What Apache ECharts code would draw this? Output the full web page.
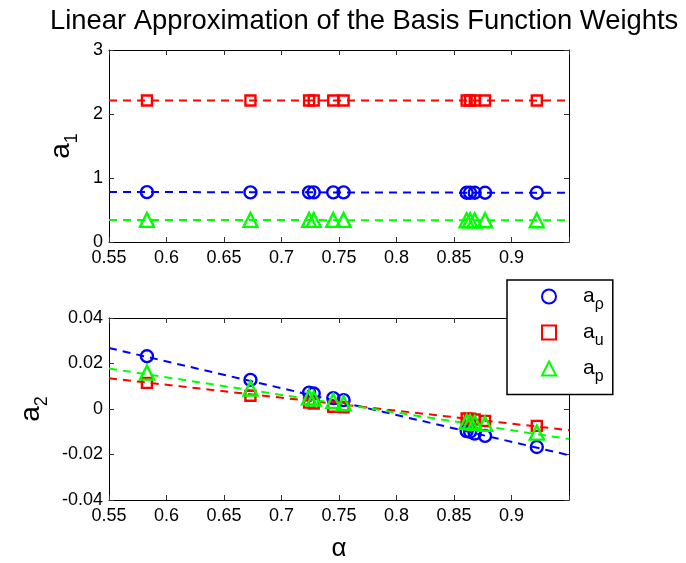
<!DOCTYPE html>
<html>
<head>
<meta charset="utf-8">
<script src="https://cdn.jsdelivr.net/npm/echarts@6/dist/echarts.min.js"></script>
<style>html,body{margin:0;padding:0;background:#fff;}#c{width:686px;height:563px;}</style>
</head>
<body>
<div id="c"></div>
<script>
// ---- data ----
var alpha   = [0.583, 0.673, 0.724, 0.728, 0.745, 0.754, 0.861, 0.864, 0.868, 0.877, 0.922];
var a1Rho   = [0.78, 0.775, 0.775, 0.775, 0.775, 0.775, 0.77, 0.77, 0.77, 0.77, 0.77];
var a1U     = [2.21, 2.21, 2.21, 2.21, 2.21, 2.21, 2.21, 2.21, 2.21, 2.21, 2.21];
var a1P     = [0.345, 0.345, 0.345, 0.345, 0.345, 0.345, 0.34, 0.34, 0.34, 0.34, 0.34];
var a2Rho   = [0.0232, 0.0128, 0.0072, 0.0068, 0.0048, 0.0039, -0.0097, -0.0100, -0.0108, -0.0118, -0.0167];
var a2U     = [0.0115, 0.0058, 0.0028, 0.0024, 0.0010, 0.0008, -0.0042, -0.0043, -0.0046, -0.0052, -0.0074];
var a2P     = [0.0160, 0.0090, 0.0051, 0.0046, 0.0035, 0.0025, -0.0056, -0.0058, -0.0061, -0.0065, -0.0104];
var fitAlpha  = [0.55, 0.95];
var fitA1Rho  = [0.782, 0.768];
var fitA1U    = [2.21, 2.21];
var fitA1P    = [0.345, 0.338];
var fitA2Rho  = [0.0268, -0.0203];
var fitA2U    = [0.0135, -0.0093];
var fitA2P    = [0.0178, -0.0132];
var xTicks    = [0.55, 0.6, 0.65, 0.7, 0.75, 0.8, 0.85, 0.9];
var legendSub = ['ρ', 'u', 'p'];
var seriesNames = ['a_rho', 'a_u', 'a_p'];

var FONT = "'Liberation Sans', Arial, Helvetica, sans-serif";
var BLUE = '#0000ff', RED = '#ff0000', GREEN = '#00ff00';
var colors = [BLUE, RED, GREEN];
var symbols = ['circle', 'rect', 'triangle'];
var sizes = [12, 10, 14];

function pairs(xs, ys) { return xs.map(function (x, i) { return [x, ys[i]]; }); }
function xFmt(v) {
  var r = Math.round(v * 100) / 100;
  for (var i = 0; i < xTicks.length; i++) if (Math.abs(xTicks[i] - r) < 1e-6) return String(r);
  return '';
}
var tickLabel = { fontFamily: FONT, fontSize: 18, color: '#000' };
var axLine = { show: true, onZero: false, lineStyle: { color: '#000', width: 1 } };
var tickIn = { show: true, inside: true, length: 5, lineStyle: { color: '#333' } };

function xAxes(g) {
  return [
    { type: 'value', gridIndex: g, position: 'bottom', min: 0.55, max: 0.95, interval: 0.05,
      axisLine: axLine, axisTick: tickIn, splitLine: { show: false },
      axisLabel: Object.assign({ formatter: xFmt, margin: 7 }, tickLabel),
      name: g === 1 ? 'α' : '', nameLocation: 'middle', nameGap: 36,
      nameTextStyle: { fontFamily: FONT, fontSize: 26, color: '#000' } },
    { type: 'value', gridIndex: g, position: 'top', min: 0.55, max: 0.95, interval: 0.05,
      axisLine: axLine, axisTick: tickIn, splitLine: { show: false }, axisLabel: { show: false } }
  ];
}
function subName(n) { return '{a|a}{s|' + n + '}'; }
var nameRich = {
  a: { fontFamily: FONT, fontSize: 28, color: '#000', lineHeight: 40, verticalAlign: 'middle' },
  s: { fontFamily: FONT, fontSize: 18, color: '#000', lineHeight: 18, verticalAlign: 'bottom' }
};
function yAxes(g, min, max, interval, name, fmt) {
  return [
    { type: 'value', gridIndex: g, position: 'left', min: min, max: max, interval: interval,
      axisLine: axLine, axisTick: tickIn, splitLine: { show: false },
      axisLabel: Object.assign({ formatter: fmt, margin: 6 }, tickLabel),
      name: subName(name), nameLocation: 'middle', nameGap: 28, nameRotate: 90,
      nameTextStyle: { rich: nameRich } },
    { type: 'value', gridIndex: g, position: 'right', min: min, max: max, interval: interval,
      axisLine: axLine, axisTick: tickIn, splitLine: { show: false }, axisLabel: { show: false } }
  ];
}

function fitSeries(xi, yi, ys, c) {
  return { type: 'line', xAxisIndex: xi, yAxisIndex: yi, data: pairs(fitAlpha, ys),
    showSymbol: false, symbol: 'none', silent: true, z: 2,
    lineStyle: { color: c, width: 2, type: [8, 6] } };
}
function ptSeries(name, xi, yi, ys, k) {
  return { type: 'scatter', name: name, xAxisIndex: xi, yAxisIndex: yi, data: pairs(alpha, ys),
    symbol: symbols[k], symbolSize: sizes[k], z: 3 + k,
    itemStyle: { color: 'rgba(0,0,0,0)', borderColor: colors[k], borderWidth: 2.4, opacity: 1 } };
}

var series = [
  fitSeries(0, 0, fitA1Rho, BLUE), fitSeries(0, 0, fitA1U, RED), fitSeries(0, 0, fitA1P, GREEN),
  ptSeries('top_rho', 0, 0, a1Rho, 0), ptSeries('top_u', 0, 0, a1U, 1), ptSeries('top_p', 0, 0, a1P, 2),
  fitSeries(2, 2, fitA2Rho, BLUE), fitSeries(2, 2, fitA2U, RED), fitSeries(2, 2, fitA2P, GREEN),
  ptSeries(seriesNames[0], 2, 2, a2Rho, 0), ptSeries(seriesNames[1], 2, 2, a2U, 1), ptSeries(seriesNames[2], 2, 2, a2P, 2)
];

var chart = echarts.init(document.getElementById('c'), null, { renderer: 'canvas' });
chart.setOption({
  backgroundColor: '#fff',
  animation: false,
  title: { text: 'Linear Approximation of the Basis Function Weights', left: 50, top: 8, padding: 0,
    textStyle: { fontFamily: FONT, fontSize: 27.4, fontWeight: 'normal', color: '#000' } },
  grid: [
    { left: 109, top: 50, width: 460, height: 192 },
    { left: 109, top: 318, width: 460, height: 191 }
  ],
  xAxis: xAxes(0).concat(xAxes(1)),
  yAxis: yAxes(0, 0, 3, 1, '1', function (v) { return String(v); })
    .concat(yAxes(1, -0.04, 0.04, 0.02, '2', function (v) { return String(Math.round(v * 100) / 100); })),
  legend: {
    data: seriesNames, orient: 'vertical', left: 507, top: 280,
    padding: [6, 9, 10, 34], itemGap: 9.5, itemWidth: 14, itemHeight: 14,
    backgroundColor: '#fff', borderColor: '#000', borderWidth: 1.5, borderRadius: 0,
    selectedMode: false,
    formatter: function (n) { return '{a|a}{s|' + legendSub[seriesNames.indexOf(n)] + '}'; },
    textStyle: { padding: [0, 0, 0, 22], rich: {
      a: { fontFamily: FONT, fontSize: 21, color: '#000', lineHeight: 32, verticalAlign: 'middle' },
      s: { fontFamily: FONT, fontSize: 16, color: '#000', lineHeight: 15, verticalAlign: 'bottom' }
    } }
  },
  series: series
});
</script>
</body>
</html>
